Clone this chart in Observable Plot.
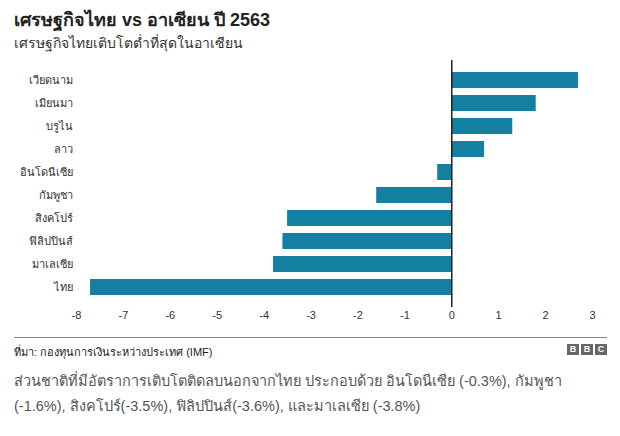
<!DOCTYPE html>
<html><head><meta charset="utf-8">
<script src="https://cdn.jsdelivr.net/npm/d3@7"></script>
<script src="https://cdn.jsdelivr.net/npm/@observablehq/plot@0.6"></script>
<style>
body{margin:0;background:#fff;font-family:"Liberation Sans",Arial,"Noto Sans",sans-serif;width:620px;height:436px;overflow:hidden;position:relative}
#title{position:absolute;left:14px;top:5px;font-size:18px;font-weight:bold;color:#222}
#sub{position:absolute;left:14px;top:32px;font-size:14px;color:#333}
#chart{position:absolute;left:0;top:58px}
#rule{position:absolute;left:14px;top:337px;width:593px;height:1px;background:#888}
#src{position:absolute;left:14px;top:343px;font-size:11px;color:#222}
#bbc{position:absolute;left:567px;top:344px;display:flex;gap:2px}
#bbc span{display:inline-block;width:12px;height:11px;background:#666;color:#fff;font-size:9px;font-weight:bold;text-align:center;line-height:11px}
#para{position:absolute;left:14px;top:369px;font-size:14.5px;color:#555;line-height:25px;width:600px}
</style></head><body>
<div id="title">เศรษฐกิจไทย vs อาเซียน ปี 2563</div>
<div id="sub">เศรษฐกิจไทยเติบโตต่ำที่สุดในอาเซียน</div>
<div id="chart"></div>
<div id="rule"></div>
<div id="src">ที่มา: กองทุนการเงินระหว่างประเทศ (IMF)</div>
<div id="bbc"><span>B</span><span>B</span><span>C</span></div>
<div id="para">ส่วนชาติที่มีอัตราการเติบโตติดลบนอกจากไทย ประกอบด้วย อินโดนีเซีย (-0.3%), กัมพูชา (-1.6%), สิงคโปร์(-3.5%), ฟิลิปปินส์(-3.6%), และมาเลเซีย (-3.8%)</div>
<script>
const countries = ["เวียดนาม","เมียนมา","บรูไน","ลาว","อินโดนีเซีย","กัมพูชา","สิงคโปร์","ฟิลิปปินส์","มาเลเซีย","ไทย"];
const growth = [2.7, 1.8, 1.3, 0.7, -0.3, -1.6, -3.5, -3.6, -3.8, -7.7];
const xTicks = [-8,-7,-6,-5,-4,-3,-2,-1,0,1,2,3];
const data = countries.map((c,i)=>({country:c, value:growth[i]}));
const chart = Plot.plot({
  width:620, height:270,
  marginLeft:76, marginRight:28, marginTop:2, marginBottom:21,
  style:{fontFamily:"Liberation Sans, Arial, Noto Sans, sans-serif", fontSize:"11px", color:"#333", background:"#fff"},
  x:{domain:[-8,3], ticks:xTicks, tickSize:0, tickPadding:4, label:null, tickFormat:d=>String(d)},
  y:{domain:countries, padding:0.3, tickSize:0, tickPadding:4, label:null},
  marks:[
    Plot.barX(data,{x:"value", y:"country", fill:"#1380A1"}),
    Plot.ruleX([0],{stroke:"#222", strokeWidth:1.5})
  ]
});
document.getElementById("chart").appendChild(chart);
</script>
</body></html>
